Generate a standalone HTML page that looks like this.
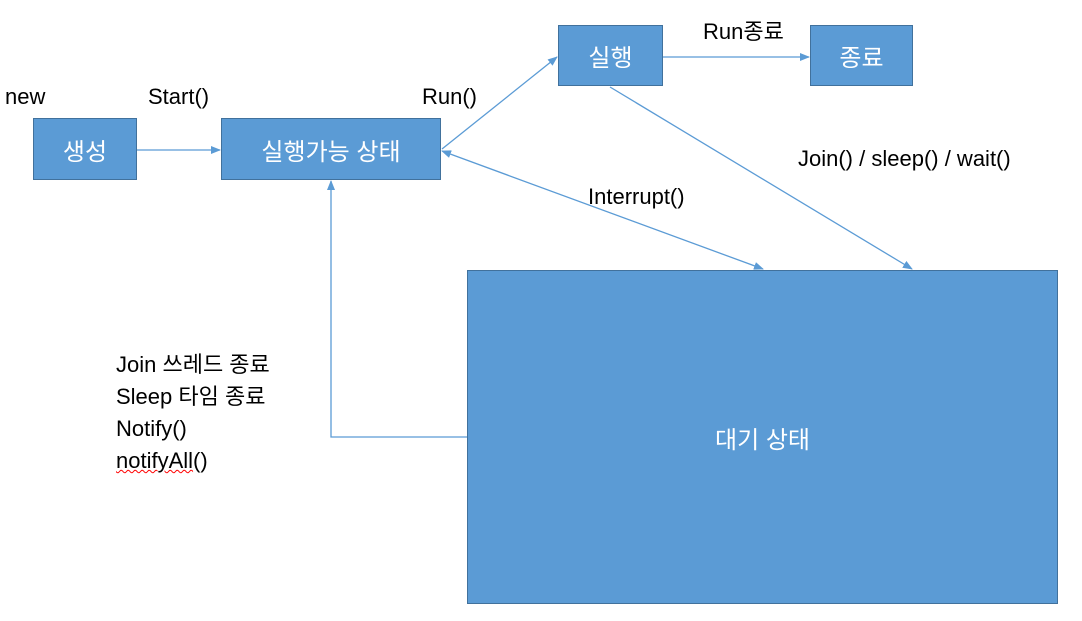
<!DOCTYPE html>
<html><head><meta charset="utf-8"><style>
body{margin:0;width:1082px;height:621px;background:#fff;position:relative;overflow:hidden;font-family:"Liberation Sans","Noto Sans CJK KR",sans-serif;}
.b{position:absolute;background:#5b9bd5;border:1px solid #41719c;box-sizing:border-box;color:#fff;display:flex;align-items:center;justify-content:center;font-size:24px;}
.t{position:absolute;font-size:22px;color:#000;white-space:nowrap;line-height:1.45;}
svg{position:absolute;left:0;top:0;}
</style></head><body>
<svg width="1082" height="621">
<defs><marker id="a" markerWidth="10" markerHeight="8" refX="9" refY="4" orient="auto-start-reverse" markerUnits="userSpaceOnUse"><path d="M0,0 L10,4 L0,8z" fill="#5b9bd5"/></marker></defs>
<g stroke="#5b9bd5" stroke-width="1.3" fill="none">
<line x1="137" y1="150" x2="220" y2="150" marker-end="url(#a)"/>
<line x1="442" y1="149" x2="557" y2="57" marker-end="url(#a)"/>
<line x1="663" y1="57" x2="809" y2="57" marker-end="url(#a)"/>
<line x1="442" y1="151" x2="763" y2="269" marker-start="url(#a)" marker-end="url(#a)"/>
<line x1="610" y1="87" x2="912" y2="269" marker-end="url(#a)"/>
<polyline points="467,437 331,437 331,181" marker-end="url(#a)"/>
</g></svg>
<div class="b" style="left:33px;top:118px;width:104px;height:62px">생성</div>
<div class="b" style="left:221px;top:118px;width:220px;height:62px">실행가능 상태</div>
<div class="b" style="left:558px;top:25px;width:105px;height:61px">실행</div>
<div class="b" style="left:810px;top:25px;width:103px;height:61px">종료</div>
<div class="b" style="left:467px;top:270px;width:591px;height:334px">대기 상태</div>
<div class="t" style="left:5px;top:81px">new</div>
<div class="t" style="left:148px;top:81px">Start()</div>
<div class="t" style="left:422px;top:81px">Run()</div>
<div class="t" style="left:703px;top:16px">Run종료</div>
<div class="t" style="left:798px;top:143px">Join() / sleep() / wait()</div>
<div class="t" style="left:588px;top:181px">Interrupt()</div>
<div class="t" style="left:116px;top:349px;line-height:32px">Join 쓰레드 종료<br>Sleep 타임 종료<br>Notify()<br><span style="text-decoration:underline wavy red 1px">notifyAll</span>()</div>
</body></html>
